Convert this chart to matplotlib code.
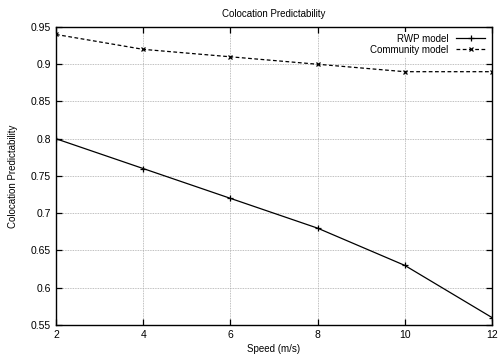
import matplotlib
matplotlib.use("Agg")
import matplotlib.pyplot as plt

plt.rcParams['font.family'] = ['Liberation Sans', 'DejaVu Sans']

speed = [2, 4, 6, 8, 10, 12]
rwp = [0.80, 0.76, 0.72, 0.68, 0.63, 0.56]
community = [0.94, 0.92, 0.91, 0.90, 0.89, 0.89]

fig = plt.figure(figsize=(4.98, 3.58), dpi=100)
ax = fig.add_axes([0.1124, 0.0922, 0.8755, 0.8324])

ax.plot(speed, rwp, color='black', lw=0.9, marker='+', ms=5, mew=0.9, label='RWP model')
ax.plot(speed, community, color='black', lw=0.9, ls=(0, (3, 2)), marker='x', ms=3.5, mew=0.9,
        label='Community model')

ax.set_xlim(2, 12)
ax.set_ylim(0.55, 0.95)
ax.set_xticks(speed)
ax.set_yticks([0.55, 0.6, 0.65, 0.7, 0.75, 0.8, 0.85, 0.9, 0.95])
ax.set_yticklabels(['0.55', '0.6', '0.65', '0.7', '0.75', '0.8', '0.85', '0.9', '0.95'])
ax.grid(True, color='#aaaaaa', ls=(0, (1, 1)), lw=0.6)
ax.tick_params(direction='in', labelsize=7.5, length=4, width=0.9, top=True, right=True)
for s in ax.spines.values():
    s.set_linewidth(1)

ax.set_title('Colocation Predictability', fontsize=7, pad=7)
ax.set_xlabel('Speed (m/s)', fontsize=7, labelpad=3)
ax.set_ylabel('Colocation Predictability', fontsize=7, labelpad=9)

leg = ax.legend(loc='upper right', fontsize=7, frameon=True, fancybox=False,
                edgecolor='none', framealpha=1, markerfirst=False,
                handlelength=3, borderpad=0.2, labelspacing=0.1)

fig.savefig('out.png', dpi=100)
